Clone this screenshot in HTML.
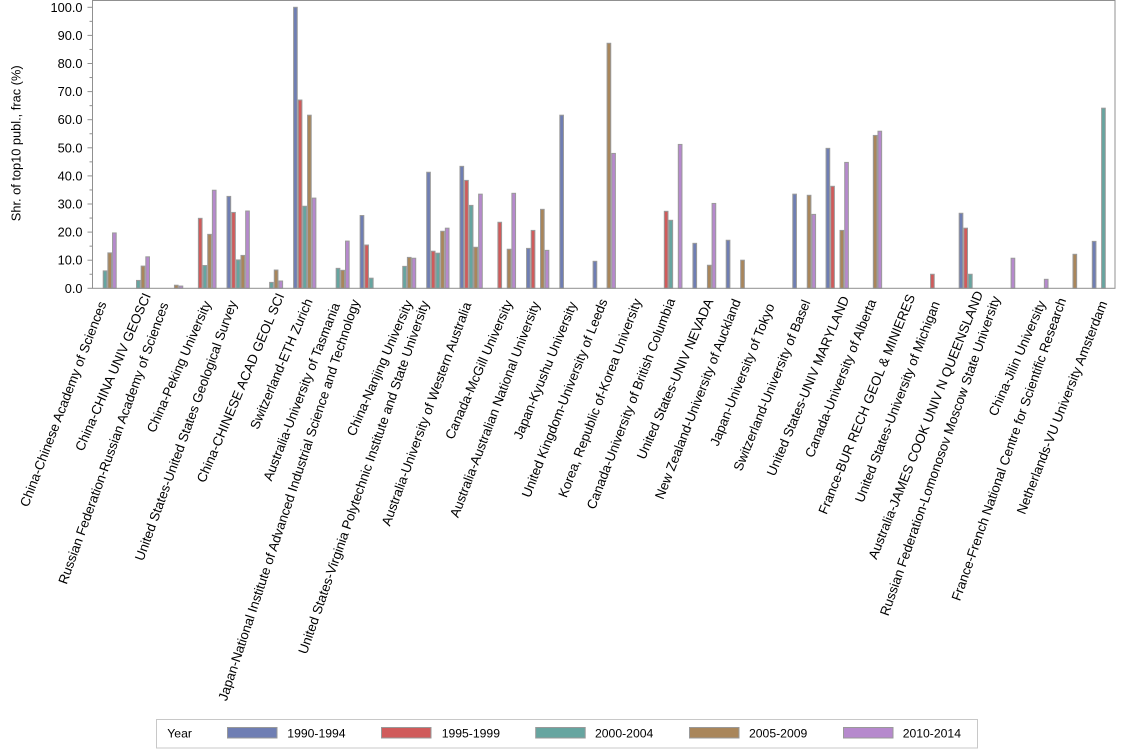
<!DOCTYPE html>
<html>
<head>
<meta charset="utf-8">
<style>
html,body{margin:0;padding:0;background:#fff;}
svg{display:block;font-family:"Liberation Sans",Arial,sans-serif;}
.b{fill:#6F7EB3}.r{fill:#D05B5B}.t{fill:#66A5A0}.n{fill:#A9865B}.p{fill:#B689CD}
.bars rect{stroke:#9a9a9a;stroke-width:1}
.lab text{font-size:13.3px;fill:#000}
.yt text{font-size:12.8px;fill:#000;text-anchor:end}
</style>
</head>
<body>
<svg width="1134" height="756" viewBox="0 0 1134 756" xmlns="http://www.w3.org/2000/svg">
<rect x="0" y="0" width="1134" height="756" fill="#fff"/>

<!-- bars -->
<g class="bars">
<rect class="t" x="103.22" y="270.88" width="3.66" height="17.42"/>
<rect class="n" x="107.88" y="252.89" width="3.66" height="35.41"/>
<rect class="p" x="112.54" y="232.94" width="3.66" height="55.36"/>

<rect class="t" x="136.5" y="280.43" width="3.66" height="7.87"/>
<rect class="n" x="141.16" y="266.1" width="3.66" height="22.2"/>
<rect class="p" x="145.82" y="256.83" width="3.66" height="31.47"/>

<rect class="n" x="174.44" y="285.21" width="3.66" height="3.09"/>
<rect class="p" x="179.1" y="286.05" width="3.66" height="2.25"/>

<rect class="r" x="198.4" y="218.33" width="3.66" height="69.97"/>
<rect class="t" x="203.06" y="265.54" width="3.66" height="22.76"/>
<rect class="n" x="207.72" y="234.35" width="3.66" height="53.95"/>
<rect class="p" x="212.38" y="190.23" width="3.66" height="98.07"/>

<rect class="b" x="227.02" y="196.41" width="3.66" height="91.89"/>
<rect class="r" x="231.68" y="212.43" width="3.66" height="75.87"/>
<rect class="t" x="236.34" y="259.92" width="3.66" height="28.38"/>
<rect class="n" x="241.0" y="255.42" width="3.66" height="32.88"/>
<rect class="p" x="245.66" y="211.02" width="3.66" height="77.28"/>

<rect class="t" x="269.62" y="282.4" width="3.66" height="5.9"/>
<rect class="n" x="274.28" y="270.03" width="3.66" height="18.27"/>
<rect class="p" x="278.94" y="280.99" width="3.66" height="7.31"/>

<rect class="b" x="293.58" y="7.3" width="3.66" height="281"/>
<rect class="r" x="298.24" y="100.03" width="3.66" height="188.27"/>
<rect class="t" x="302.9" y="206.25" width="3.66" height="82.05"/>
<rect class="n" x="307.56" y="115.2" width="3.66" height="173.1"/>
<rect class="p" x="312.22" y="198.1" width="3.66" height="90.2"/>

<rect class="t" x="336.18" y="268.35" width="3.66" height="19.95"/>
<rect class="n" x="340.84" y="270.32" width="3.66" height="17.98"/>
<rect class="p" x="345.5" y="241.09" width="3.66" height="47.21"/>

<rect class="b" x="360.14" y="215.52" width="3.66" height="72.78"/>
<rect class="r" x="364.8" y="245.03" width="3.66" height="43.27"/>
<rect class="t" x="369.46" y="278.18" width="3.66" height="10.12"/>

<rect class="t" x="402.74" y="266.38" width="3.66" height="21.92"/>
<rect class="n" x="407.4" y="257.39" width="3.66" height="30.91"/>
<rect class="p" x="412.06" y="258.23" width="3.66" height="30.07"/>

<rect class="b" x="426.7" y="172.25" width="3.66" height="116.05"/>
<rect class="r" x="431.36" y="251.21" width="3.66" height="37.09"/>
<rect class="t" x="436.02" y="253.17" width="3.66" height="35.13"/>
<rect class="n" x="440.68" y="231.26" width="3.66" height="57.04"/>
<rect class="p" x="445.34" y="228.17" width="3.66" height="60.13"/>

<rect class="b" x="459.98" y="166.35" width="3.66" height="121.95"/>
<rect class="r" x="464.64" y="180.4" width="3.66" height="107.9"/>
<rect class="t" x="469.3" y="205.4" width="3.66" height="82.9"/>
<rect class="n" x="473.96" y="247.27" width="3.66" height="41.03"/>
<rect class="p" x="478.62" y="194.16" width="3.66" height="94.14"/>

<rect class="r" x="497.92" y="222.26" width="3.66" height="66.04"/>
<rect class="n" x="507.24" y="249.24" width="3.66" height="39.06"/>
<rect class="p" x="511.9" y="193.32" width="3.66" height="94.98"/>

<rect class="b" x="526.54" y="248.4" width="3.66" height="39.9"/>
<rect class="r" x="531.2" y="230.41" width="3.66" height="57.89"/>
<rect class="n" x="540.52" y="209.34" width="3.66" height="78.96"/>
<rect class="p" x="545.18" y="250.36" width="3.66" height="37.94"/>

<rect class="b" x="559.82" y="115.2" width="3.66" height="173.1"/>

<rect class="b" x="593.1" y="261.32" width="3.66" height="26.98"/>
<rect class="n" x="607.08" y="43.27" width="3.66" height="245.03"/>
<rect class="p" x="611.74" y="153.42" width="3.66" height="134.88"/>

<rect class="r" x="664.32" y="211.31" width="3.66" height="76.99"/>
<rect class="t" x="668.98" y="220.3" width="3.66" height="68.0"/>
<rect class="p" x="678.3" y="144.43" width="3.66" height="143.87"/>

<rect class="b" x="692.94" y="243.34" width="3.66" height="44.96"/>
<rect class="n" x="707.42" y="265.26" width="3.66" height="23.04"/>
<rect class="p" x="712.08" y="203.44" width="3.66" height="84.86"/>

<rect class="b" x="726.22" y="240.25" width="3.66" height="48.05"/>
<rect class="n" x="740.7" y="260.2" width="3.66" height="28.1"/>

<rect class="b" x="792.78" y="194.16" width="3.66" height="94.14"/>
<rect class="n" x="807.26" y="195.29" width="3.66" height="93.01"/>
<rect class="p" x="811.92" y="214.4" width="3.66" height="73.9"/>

<rect class="b" x="826.06" y="148.36" width="3.66" height="139.94"/>
<rect class="r" x="830.72" y="186.3" width="3.66" height="102.0"/>
<rect class="n" x="840.04" y="230.41" width="3.66" height="57.89"/>
<rect class="p" x="844.7" y="162.41" width="3.66" height="125.89"/>

<rect class="n" x="873.32" y="135.44" width="3.66" height="152.86"/>
<rect class="p" x="877.98" y="131.22" width="3.66" height="157.08"/>

<rect class="r" x="930.56" y="274.25" width="3.66" height="14.05"/>

<rect class="b" x="959.18" y="213.27" width="3.66" height="75.03"/>
<rect class="r" x="963.84" y="228.17" width="3.66" height="60.13"/>
<rect class="t" x="968.5" y="274.25" width="3.66" height="14.05"/>

<rect class="p" x="1011.1" y="258.23" width="3.66" height="30.07"/>

<rect class="p" x="1044.38" y="279.31" width="3.66" height="8.99"/>

<rect class="n" x="1073.0" y="254.3" width="3.66" height="34.0"/>

<rect class="b" x="1092.3" y="241.37" width="3.66" height="46.93"/>
<rect class="t" x="1101.62" y="108.18" width="3.66" height="180.12"/>
</g>

<!-- frame -->
<rect x="92.5" y="0.5" width="1022.5" height="287.8" fill="none" stroke="#909090" stroke-width="1"/>

<!-- y ticks -->
<g stroke="#909090" stroke-width="1">
<line x1="87.5" y1="288.3" x2="92.5" y2="288.3"/>
<line x1="87.5" y1="260.2" x2="92.5" y2="260.2"/>
<line x1="87.5" y1="232.1" x2="92.5" y2="232.1"/>
<line x1="87.5" y1="204.0" x2="92.5" y2="204.0"/>
<line x1="87.5" y1="175.9" x2="92.5" y2="175.9"/>
<line x1="87.5" y1="147.8" x2="92.5" y2="147.8"/>
<line x1="87.5" y1="119.7" x2="92.5" y2="119.7"/>
<line x1="87.5" y1="91.6" x2="92.5" y2="91.6"/>
<line x1="87.5" y1="63.5" x2="92.5" y2="63.5"/>
<line x1="87.5" y1="35.4" x2="92.5" y2="35.4"/>
<line x1="87.5" y1="7.3" x2="92.5" y2="7.3"/>
<line x1="89.5" y1="274.25" x2="92.5" y2="274.25"/>
<line x1="89.5" y1="246.15" x2="92.5" y2="246.15"/>
<line x1="89.5" y1="218.05" x2="92.5" y2="218.05"/>
<line x1="89.5" y1="189.95" x2="92.5" y2="189.95"/>
<line x1="89.5" y1="161.85" x2="92.5" y2="161.85"/>
<line x1="89.5" y1="133.75" x2="92.5" y2="133.75"/>
<line x1="89.5" y1="105.65" x2="92.5" y2="105.65"/>
<line x1="89.5" y1="77.55" x2="92.5" y2="77.55"/>
<line x1="89.5" y1="49.45" x2="92.5" y2="49.45"/>
<line x1="89.5" y1="21.35" x2="92.5" y2="21.35"/>
</g>
<g class="yt">
<text x="82.5" y="288.3" dy="0.35em">0.0</text>
<text x="82.5" y="260.2" dy="0.35em">10.0</text>
<text x="82.5" y="232.1" dy="0.35em">20.0</text>
<text x="82.5" y="204.0" dy="0.35em">30.0</text>
<text x="82.5" y="175.9" dy="0.35em">40.0</text>
<text x="82.5" y="147.8" dy="0.35em">50.0</text>
<text x="82.5" y="119.7" dy="0.35em">60.0</text>
<text x="82.5" y="91.6" dy="0.35em">70.0</text>
<text x="82.5" y="63.5" dy="0.35em">80.0</text>
<text x="82.5" y="35.4" dy="0.35em">90.0</text>
<text x="82.5" y="7.3" dy="0.35em">100.0</text>
</g>
<text transform="translate(20.5,143.3) rotate(-90)" text-anchor="middle" font-size="12.8" fill="#000">Shr. of top10 publ., frac (%)</text>

<!-- category labels -->
<g class="lab">
<text transform="translate(23.8,506.1) rotate(-68.96)" dy="0.35em">China-Chinese Academy of Sciences</text>
<text transform="translate(78.8,450.1) rotate(-66.5)" dy="0.35em">China-CHINA UNIV GEOSCI</text>
<text transform="translate(62.2,583.4) rotate(-70.0)" dy="0.35em">Russian Federation-Russian Academy of Sciences</text>
<text transform="translate(150.5,431.7) rotate(-66.5)" dy="0.35em">China-Peking University</text>
<text transform="translate(138.8,560.1) rotate(-70.07)" dy="0.35em">United States-United States Geological Survey</text>
<text transform="translate(200.5,481.7) rotate(-67.0)" dy="0.35em">China-CHINESE ACAD GEOL SCI</text>
<text transform="translate(253.8,428.4) rotate(-67.0)" dy="0.35em">Switzerland-ETH Zurich</text>
<text transform="translate(267.2,480.1) rotate(-68.8)" dy="0.35em">Australia-University of Tasmania</text>
<text transform="translate(222.2,700.1) rotate(-71.6)" dy="0.35em">Japan-National Institute of Advanced Industrial Science and Technology</text>
<text transform="translate(350.5,435.1) rotate(-66.6)" dy="0.35em">China-Nanjing University</text>
<text transform="translate(302.2,653.4) rotate(-70.8)" dy="0.35em">United States-Virginia Polytechnic Institute and State University</text>
<text transform="translate(385.5,525.1) rotate(-69.85)" dy="0.35em">Australia-University of Western Australia</text>
<text transform="translate(448.8,438.4) rotate(-66.5)" dy="0.35em">Canada-McGill University</text>
<text transform="translate(453.8,516.7) rotate(-69.1)" dy="0.35em">Australia-Australian National University</text>
<text transform="translate(517.2,438.4) rotate(-67.76)" dy="0.35em">Japan-Kyushu University</text>
<text transform="translate(525.5,496.7) rotate(-68.47)" dy="0.35em">United Kingdom-University of Leeds</text>
<text transform="translate(562.2,496.7) rotate(-69.17)" dy="0.35em">Korea, Republic of-Korea University</text>
<text transform="translate(590.5,508.4) rotate(-69.0)" dy="0.35em">Canada-University of British Columbia</text>
<text transform="translate(640.5,458.4) rotate(-66.6)" dy="0.35em">United States-UNIV NEVADA</text>
<text transform="translate(658.8,498.4) rotate(-68.64)" dy="0.35em">New Zealand-University of Auckland</text>
<text transform="translate(713.8,445.1) rotate(-68.1)" dy="0.35em">Japan-University of Tokyo</text>
<text transform="translate(737.2,470.1) rotate(-67.83)" dy="0.35em">Switzerland-University of Basel</text>
<text transform="translate(770.5,475.1) rotate(-67.29)" dy="0.35em">United States-UNIV MARYLAND</text>
<text transform="translate(808.8,456.7) rotate(-68.0)" dy="0.35em">Canada-University of Alberta</text>
<text transform="translate(822.2,513.4) rotate(-67.9)" dy="0.35em">France-BUR RECH GEOL &amp; MINIERES</text>
<text transform="translate(858.8,501.7) rotate(-68.96)" dy="0.35em">United States-University of Michigan</text>
<text transform="translate(872.2,558.4) rotate(-68.2)" dy="0.35em">Australia-JAMES COOK UNIV N QUEENSLAND</text>
<text transform="translate(883.8,615.1) rotate(-70.6)" dy="0.35em">Russian Federation-Lomonosov Moscow State University</text>
<text transform="translate(992.2,415.1) rotate(-66.5)" dy="0.35em">China-Jilin University</text>
<text transform="translate(955.5,600.1) rotate(-70.56)" dy="0.35em">France-French National Centre for Scientific Research</text>
<text transform="translate(1020.5,513.4) rotate(-68.7)" dy="0.35em">Netherlands-VU University Amsterdam</text>
</g>

<!-- legend -->
<rect x="156.5" y="719.5" width="821" height="28.5" fill="#fff" stroke="#c8c8c8" stroke-width="1"/>
<g font-size="12.2" fill="#000">
<text x="167.3" y="737.5">Year</text>
<rect class="b" x="227.5" y="727.5" width="49.5" height="10.5" stroke="#999" stroke-width="1"/>
<text x="287.3" y="737.5">1990-1994</text>
<rect class="r" x="381.5" y="727.5" width="49.5" height="10.5" stroke="#999" stroke-width="1"/>
<text x="441.7" y="737.5">1995-1999</text>
<rect class="t" x="535.7" y="727.5" width="49.5" height="10.5" stroke="#999" stroke-width="1"/>
<text x="595" y="737.5">2000-2004</text>
<rect class="n" x="689.5" y="727.5" width="49.5" height="10.5" stroke="#999" stroke-width="1"/>
<text x="749" y="737.5">2005-2009</text>
<rect class="p" x="843.5" y="727.5" width="49.5" height="10.5" stroke="#999" stroke-width="1"/>
<text x="902.7" y="737.5">2010-2014</text>
</g>
</svg>
</body>
</html>
